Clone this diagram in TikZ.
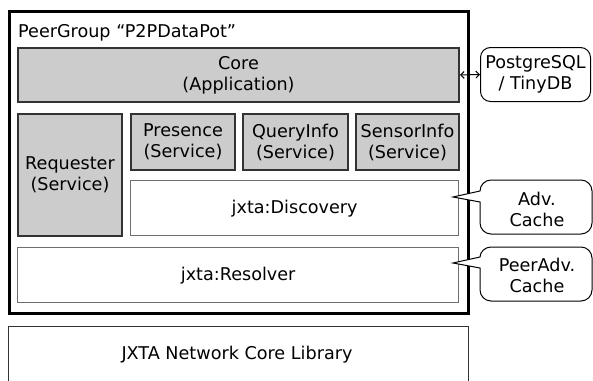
\documentclass[tikz,border=0pt]{standalone}
\usepackage{fontspec}
\setmainfont{DejaVu Sans}
\usetikzlibrary{arrows.meta}
\definecolor{boxgray}{HTML}{CCCCCC}
\definecolor{edgedark}{HTML}{333333}
\definecolor{edgelight}{HTML}{6E6E6E}
\begin{document}
\begin{tikzpicture}[x=1pt,y=-1pt,
  font=\fontsize{17.6}{21}\selectfont,
  graybox/.style={draw=edgedark, line width=2pt, fill=boxgray, align=center, inner sep=0pt, anchor=north west},
  whitebox/.style={draw=edgelight, line width=1.3pt, fill=white, align=center, inner sep=0pt, anchor=north west},
  groupbox/.style={draw=black, line width=3pt, inner sep=0pt, anchor=north west},
  dbbox/.style={draw=black, line width=1pt, rounded corners=10pt, fill=white, align=center, inner sep=0pt, anchor=north west},
  callout/.style={draw=black, line width=1pt, fill=white},
  calltext/.style={align=center, inner sep=0pt},
  dblink/.style={{Straight Barb[length=3.5pt,width=7pt]}-{Straight Barb[length=3.5pt,width=7pt]}, line width=1pt}]
\useasboundingbox (0,0) rectangle (593,380);
\clip (0,0) rectangle (593,380);
\fill[white] (0,0) rectangle (593,380);

% PeerGroup frame
\node[groupbox, minimum width=459pt, minimum height=302pt] (pg) at (8,10) {};
\node[anchor=base west, inner sep=0pt] (pglabel) at (18,37) {PeerGroup “P2PDataPot”};

% inner boxes
\node[graybox, minimum width=441pt, minimum height=54pt] (core) at (17,47) {Core\\(Application)};
\node[graybox, minimum width=104pt, minimum height=122pt] (req) at (17,113) {Requester\\(Service)};
\node[graybox, minimum width=104pt, minimum height=56pt] (pres) at (130,113) {Presence\\(Service)};
\node[graybox, minimum width=105pt, minimum height=56pt] (qinfo) at (242,113) {QueryInfo\\(Service)};
\node[graybox, minimum width=103pt, minimum height=56pt] (sinfo) at (355,113) {SensorInfo\\(Service)};
\node[whitebox, minimum width=328pt, minimum height=55pt] (disc) at (130,180) {jxta:Discovery};
\node[whitebox, minimum width=441pt, minimum height=55pt] (resol) at (17,247) {jxta:Resolver};

% JXTA core library
\node[whitebox, draw=edgedark, minimum width=460pt, minimum height=70pt] (jxta) at (8,326) {};
\node[inner sep=0pt] (jxtalabel) at (237,355) {JXTA Network Core Library};

% database
\node[dbbox, minimum width=110pt, minimum height=54pt] (db) at (480,47) {PostgreSQL\\/ TinyDB};
\draw[dblink] (core.east) -- (db.west);

% callouts
\coordinate (advtip) at (453,197);
\draw[callout] (advtip) -- (480,191) .. controls (480,185) and (485,180) .. (491,180) -- (581,180)
  .. controls (587,180) and (592,185) .. (592,191) -- (592,223)
  .. controls (592,229) and (587,234) .. (581,234) -- (491,234)
  .. controls (485,234) and (480,229) .. (480,223) -- (480,202) -- cycle;
\node[calltext] (adv) at (537,209) {Adv.\\Cache};

\coordinate (padvtip) at (453,263);
\draw[callout] (padvtip) -- (480,257) .. controls (480,252) and (485,247) .. (491,247) -- (581,247)
  .. controls (587,247) and (592,252) .. (592,258) -- (592,290)
  .. controls (592,296) and (587,301) .. (581,301) -- (491,301)
  .. controls (485,301) and (480,296) .. (480,290) -- (480,268) -- cycle;
\node[calltext] (padv) at (537,275) {PeerAdv.\\Cache};
\end{tikzpicture}
\end{document}
